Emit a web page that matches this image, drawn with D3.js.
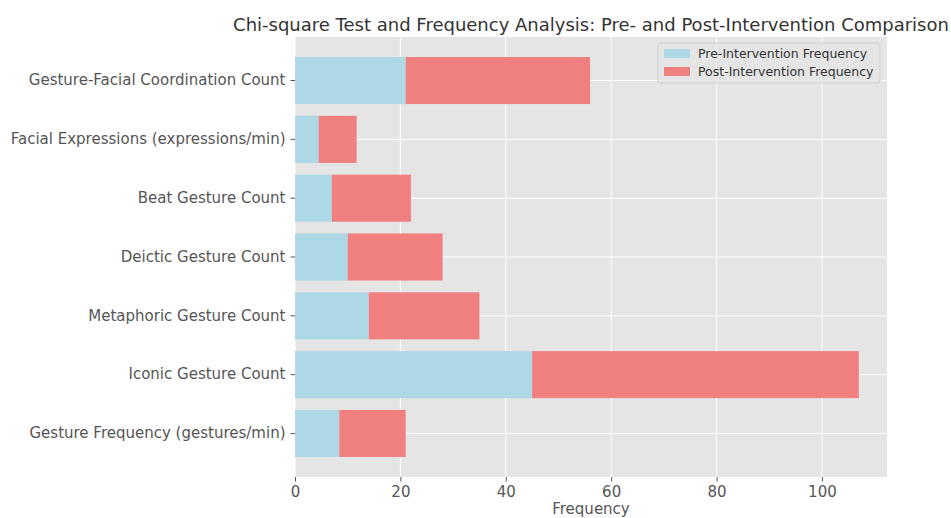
<!DOCTYPE html>
<html>
<head>
<meta charset="utf-8">
<script src="https://cdn.jsdelivr.net/npm/d3@7"></script>
<style>
  body { margin: 0; background: #fff; }
  text { font-family: "DejaVu Sans", sans-serif; }
</style>
</head>
<body>
<div id="chart"></div>
<script>
// stacked horizontal bars, pre / post intervention

const categories = [
  "Gesture Frequency (gestures/min)",
  "Iconic Gesture Count",
  "Metaphoric Gesture Count",
  "Deictic Gesture Count",
  "Beat Gesture Count",
  "Facial Expressions (expressions/min)",
  "Gesture-Facial Coordination Count"
];
const preValues = [8.4, 45, 14, 10, 7, 4.5, 21];
const postValues = [12.6, 62, 21, 18, 15, 7.2, 35];
const seriesNames = ["Pre-Intervention Frequency", "Post-Intervention Frequency"];
const xTicks = [0, 20, 40, 60, 80, 100];

const W = 951, H = 518;
const margin = { top: 37, right: 64, bottom: 41, left: 295 };
const width = W - margin.left - margin.right;
const height = H - margin.top - margin.bottom;

const data = categories.map((c, i) => ({ cat: c, pre: preValues[i], post: postValues[i] }));
const maxTotal = d3.max(data, d => d.pre + d.post);

const svg = d3.select("#chart").append("svg")
  .attr("width", W)
  .attr("height", H);

const chart = svg.append("g")
  .attr("transform", `translate(${margin.left}, ${margin.top})`);

const xScale = d3.scaleLinear()
  .domain([0, maxTotal * 1.05])
  .range([0, width]);

// first category at the bottom, like matplotlib barh
const yScale = d3.scaleBand()
  .domain(categories.slice().reverse())
  .range([0, height])
  .paddingInner(0.2)
  .paddingOuter(0.34);

chart.append("rect")
  .attr("width", width)
  .attr("height", height)
  .attr("fill", "#E5E5E5");

// grid
chart.append("g")
  .selectAll("line.vx")
  .data(xTicks)
  .enter().append("line")
  .attr("x1", d => xScale(d)).attr("x2", d => xScale(d))
  .attr("y1", 0).attr("y2", height)
  .attr("stroke", "#fff").attr("stroke-width", 1);

chart.append("g")
  .selectAll("line.hy")
  .data(categories)
  .enter().append("line")
  .attr("x1", 0).attr("x2", width)
  .attr("y1", d => yScale(d) + yScale.bandwidth() / 2)
  .attr("y2", d => yScale(d) + yScale.bandwidth() / 2)
  .attr("stroke", "#fff").attr("stroke-width", 1);

// bars
const barGroups = chart.selectAll("g.bar")
  .data(data)
  .enter().append("g");

barGroups.append("rect")
  .attr("x", xScale(0))
  .attr("y", d => yScale(d.cat))
  .attr("width", d => xScale(d.pre) - xScale(0))
  .attr("height", yScale.bandwidth())
  .attr("fill", "lightblue");

barGroups.append("rect")
  .attr("x", d => xScale(d.pre))
  .attr("y", d => yScale(d.cat))
  .attr("width", d => xScale(d.pre + d.post) - xScale(d.pre))
  .attr("height", yScale.bandwidth())
  .attr("fill", "lightcoral");

// axes
const xAxis = chart.append("g")
  .attr("transform", `translate(0, ${height})`)
  .call(d3.axisBottom(xScale).tickValues(xTicks).tickSize(4.5).tickPadding(5));

const yAxis = chart.append("g")
  .call(d3.axisLeft(yScale).tickSize(4.5).tickPadding(5));

[xAxis, yAxis].forEach(ax => {
  ax.select(".domain").remove();
  ax.selectAll(".tick line").attr("stroke", "#555");
  ax.selectAll(".tick text")
    .attr("fill", "#555")
    .style("font-family", "DejaVu Sans, sans-serif")
    .style("font-size", "15px");
});

svg.append("text")
  .attr("x", margin.left + width / 2)
  .attr("y", H - 4)
  .attr("text-anchor", "middle")
  .attr("fill", "#555")
  .style("font-size", "15px")
  .text("Frequency");

svg.append("text")
  .attr("x", margin.left + width / 2)
  .attr("y", 31)
  .attr("text-anchor", "middle")
  .attr("fill", "#333")
  .style("font-size", "18px")
  .text("Chi-square Test and Frequency Analysis: Pre- and Post-Intervention Comparison");

// legend
const legend = chart.append("g")
  .attr("transform", `translate(${width - 229}, 6)`);

legend.append("rect")
  .attr("width", 222).attr("height", 40)
  .attr("rx", 2)
  .attr("fill", "#E5E5E5").attr("fill-opacity", 0.8)
  .attr("stroke", "#d0d0d0");

const item = legend.selectAll("g.item")
  .data(seriesNames)
  .enter().append("g")
  .attr("transform", (d, i) => `translate(6, ${6 + i * 18})`);

item.append("rect")
  .attr("width", 26).attr("height", 9)
  .attr("fill", (d, i) => i === 0 ? "lightblue" : "lightcoral");

item.append("text")
  .attr("x", 34).attr("y", 9)
  .attr("fill", "#333")
  .style("font-size", "12.5px")
  .text(d => d);
</script>
</body>
</html>
